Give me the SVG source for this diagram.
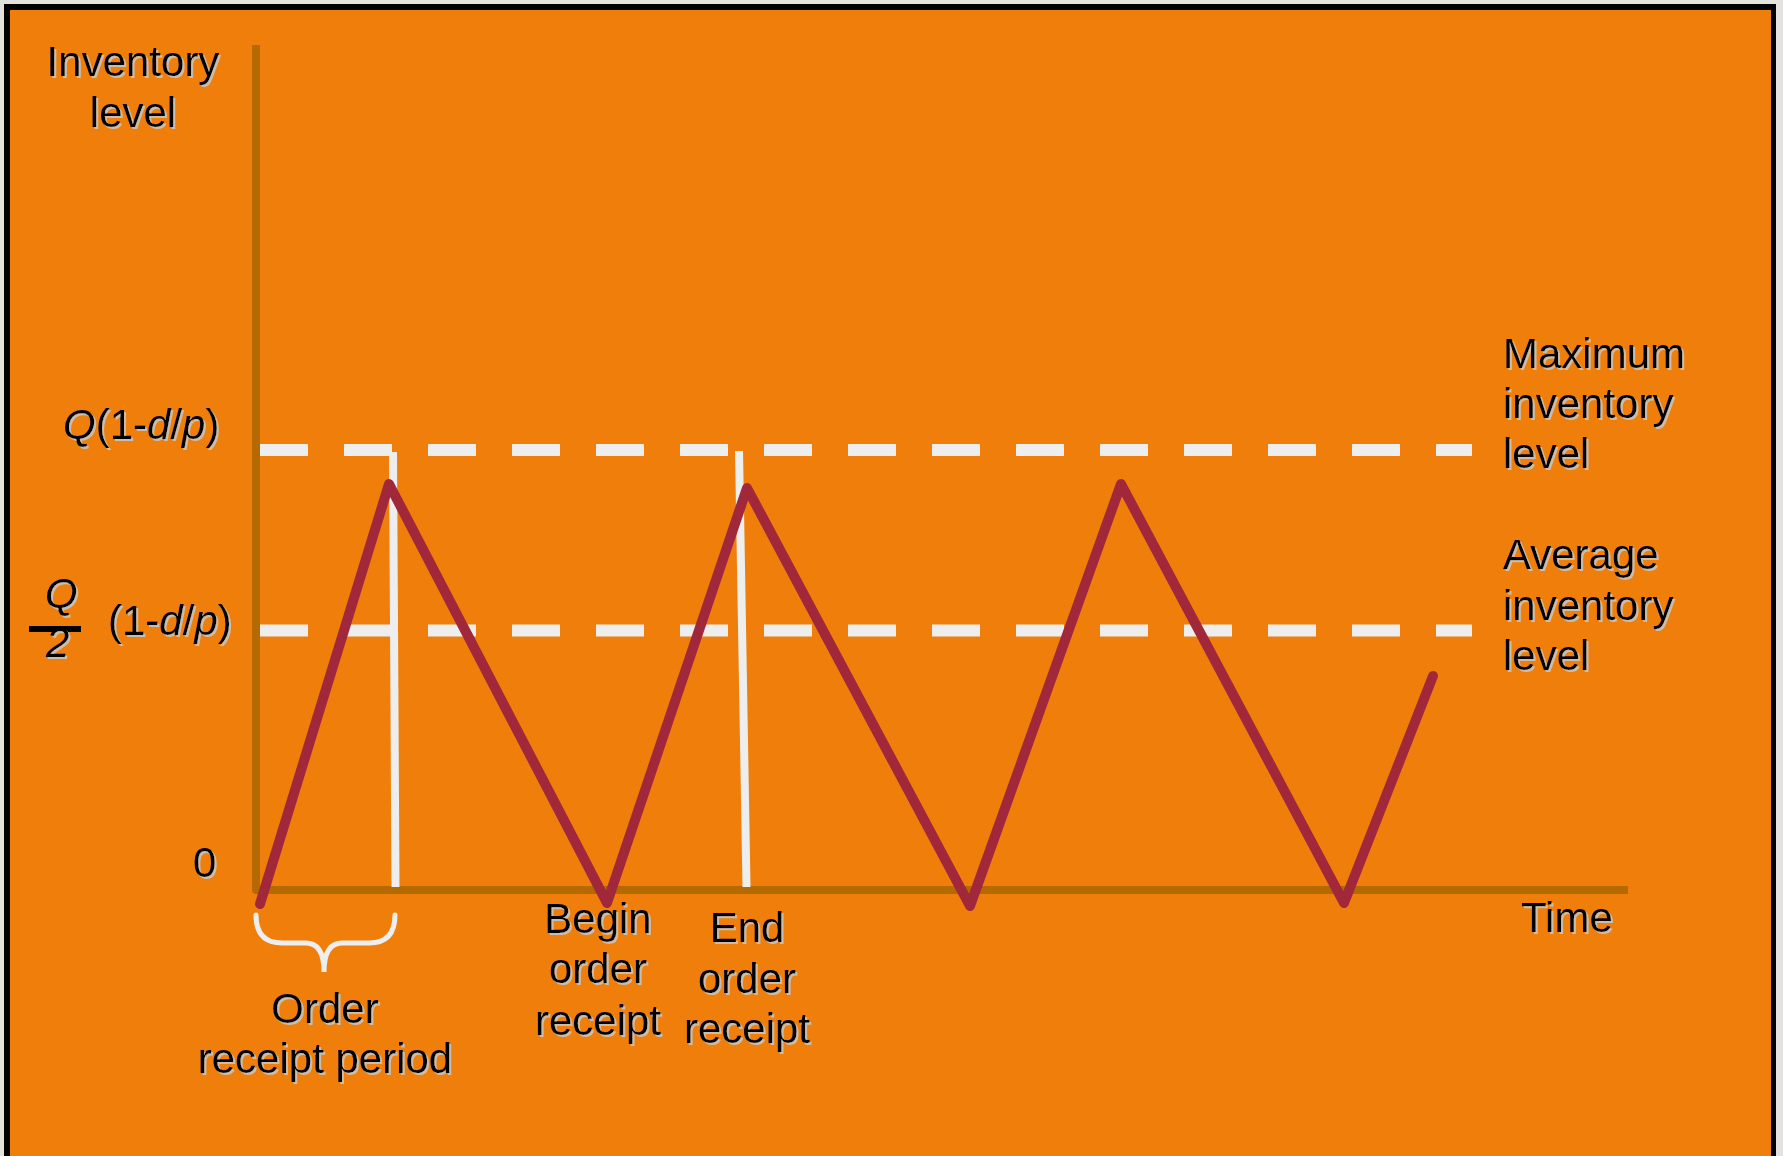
<svg xmlns="http://www.w3.org/2000/svg" width="1783" height="1156" viewBox="0 0 1783 1156">
  <defs>
    <filter id="shadow" x="-10%" y="-10%" width="130%" height="140%">
      <feDropShadow dx="2" dy="2" stdDeviation="0.6" flood-color="#c8c4bc" flood-opacity="0.9"/>
    </filter>
    <style>
      .lbl { font-family: "Liberation Sans", Arial, sans-serif; font-size: 42px; fill: #000; filter: url(#shadow); }
      .mid { text-anchor: middle; }
      .axis { fill: none; stroke: #B46A00; stroke-width: 8; stroke-linejoin: round; }
      .dash { fill: none; stroke: #EEEEEE; stroke-width: 12; stroke-dasharray: 48 36; }
      .marker { fill: none; stroke: #EEEEEE; stroke-width: 8; }
      .level { fill: none; stroke: #A0283A; stroke-width: 10; stroke-linejoin: round; stroke-linecap: round; }
      .brace { fill: none; stroke: #EEEEEE; stroke-width: 5; stroke-linecap: round; }
    </style>
  </defs>

  <!-- panel background and frame -->
  <rect x="0" y="0" width="1783" height="1156" fill="#e4e2de"/>
  <rect x="4" y="4" width="1772" height="1160" fill="#000"/>
  <rect x="10" y="10" width="1761" height="1150" fill="#EF7F0A"/>

  <!-- axes -->
  <g id="axes">
    <polyline class="axis" points="256,45 256,890 1628,890"/>
  </g>

  <!-- reference levels -->
  <g id="levels">
    <line class="dash" x1="260" y1="450" x2="1472" y2="450"/>
    <line class="dash" x1="260" y1="630.5" x2="1472" y2="630.5"/>
  </g>

  <!-- receipt markers -->
  <g id="markers">
    <line class="marker" x1="393" y1="452" x2="395.5" y2="887"/>
    <line class="marker" x1="739" y1="451" x2="746.5" y2="887"/>
  </g>

  <!-- inventory sawtooth -->
  <g id="inventory">
    <polyline class="level" points="260,904 389,484 607,903 747,488 970,906 1121,484 1344,903 1433,676"/>
  </g>

  <!-- brace under the receipt period -->
  <g id="period-brace">
    <path class="brace" d="M256,915 Q256,943 282,943 L306,943 Q324,943 324,972 Q324,943 342,943 L369,943 Q395,943 395,915"/>
  </g>

  <!-- axis labels -->
  <g id="y-label">
    <text class="lbl mid" x="133" y="76">Inventory</text>
    <text class="lbl mid" x="133" y="127">level</text>
  </g>
  <g id="max-value">
    <text class="lbl" x="63" y="439"><tspan font-style="italic">Q</tspan>(1-<tspan font-style="italic">d</tspan>/<tspan font-style="italic">p</tspan>)</text>
  </g>
  <g id="avg-value">
    <text class="lbl" x="45" y="608" font-style="italic">Q</text>
    <line x1="29" y1="629" x2="81" y2="629" stroke="#000" stroke-width="6"/>
    <text class="lbl" x="46" y="657" font-style="italic">2</text>
    <text class="lbl" x="108" y="635">(1-<tspan font-style="italic">d</tspan>/<tspan font-style="italic">p</tspan>)</text>
  </g>
  <g id="zero-label">
    <text class="lbl" x="193" y="877">0</text>
  </g>
  <g id="x-label">
    <text class="lbl" x="1521" y="932">Time</text>
  </g>

  <!-- level captions -->
  <g id="max-caption">
    <text class="lbl" x="1503" y="368">Maximum</text>
    <text class="lbl" x="1503" y="418">inventory</text>
    <text class="lbl" x="1503" y="468">level</text>
  </g>
  <g id="avg-caption">
    <text class="lbl" x="1503" y="569">Average</text>
    <text class="lbl" x="1503" y="620">inventory</text>
    <text class="lbl" x="1503" y="670">level</text>
  </g>

  <!-- event captions -->
  <g id="period-caption">
    <text class="lbl mid" x="325" y="1023">Order</text>
    <text class="lbl mid" x="325" y="1073">receipt period</text>
  </g>
  <g id="begin-caption">
    <text class="lbl mid" x="598" y="933">Begin</text>
    <text class="lbl mid" x="598" y="983">order</text>
    <text class="lbl mid" x="598" y="1035">receipt</text>
  </g>
  <g id="end-caption">
    <text class="lbl mid" x="747" y="942">End</text>
    <text class="lbl mid" x="747" y="993">order</text>
    <text class="lbl mid" x="747" y="1043">receipt</text>
  </g>
</svg>
